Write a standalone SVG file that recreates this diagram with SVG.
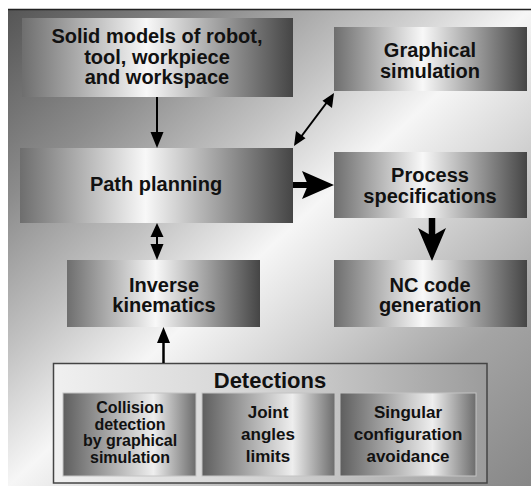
<svg xmlns="http://www.w3.org/2000/svg" width="531" height="486" viewBox="0 0 531 486">
<defs>
<linearGradient id="bg" x1="0" y1="0" x2="1" y2="1">
<stop offset="0" stop-color="#555"/>
<stop offset="0.2" stop-color="#8c8c8c"/>
<stop offset="0.36" stop-color="#c2c2c2"/>
<stop offset="0.5" stop-color="#f6f6f6"/>
<stop offset="0.62" stop-color="#d6d6d6"/>
<stop offset="0.8" stop-color="#a4a4a4"/>
<stop offset="1" stop-color="#878787"/>
</linearGradient>
<linearGradient id="node" x1="0" y1="0" x2="1" y2="0">
<stop offset="0" stop-color="#6e6e6e"/>
<stop offset="0.46" stop-color="#f8f8f8"/>
<stop offset="1" stop-color="#454545"/>
</linearGradient>
<linearGradient id="sub" x1="0" y1="0" x2="1" y2="0">
<stop offset="0" stop-color="#5e5e5e"/>
<stop offset="0.68" stop-color="#eeeeee"/>
<stop offset="1" stop-color="#6c6c6c"/>
</linearGradient>
<linearGradient id="det" x1="0" y1="0" x2="1" y2="0">
<stop offset="0" stop-color="#f0f0f0"/>
<stop offset="0.55" stop-color="#cfcfcf"/>
<stop offset="1" stop-color="#9c9c9c"/>
</linearGradient>
</defs>
<style>
.t{font-family:"Liberation Sans",Arial,sans-serif;font-weight:bold;fill:#111;text-anchor:middle}
.m{font-size:20px}
.s{font-size:17px}
.c{font-size:16px}
.box{fill:url(#node)}
.sb{fill:url(#sub);stroke:#c4c4c4;stroke-width:1}
.ln{stroke:#000;fill:none}
.hd{fill:#000}
</style>
<rect x="0" y="0" width="531" height="486" fill="#fff"/>
<rect x="8" y="9" width="523" height="477" fill="url(#bg)"/>
<line x1="8" y1="9.5" x2="531" y2="9.5" stroke="#222" stroke-width="1.5"/>

<g id="solid-models">
<rect class="box" x="22" y="18" width="271" height="79"/>
<text class="t m" x="157" y="43">Solid models of robot,</text>
<text class="t m" x="157" y="63.5">tool, workpiece</text>
<text class="t m" x="157" y="84">and workspace</text>
</g>
<g id="graphical-simulation">
<rect class="box" x="334" y="27" width="193" height="64"/>
<text class="t m" x="430" y="57">Graphical</text>
<text class="t m" x="430" y="78">simulation</text>
</g>
<g id="path-planning">
<rect class="box" x="20" y="148" width="273" height="75"/>
<text class="t m" x="156" y="191">Path planning</text>
</g>
<g id="process-specifications">
<rect class="box" x="334" y="152" width="193" height="66"/>
<text class="t m" x="430" y="182">Process</text>
<text class="t m" x="430" y="203">specifications</text>
</g>
<g id="inverse-kinematics">
<rect class="box" x="67" y="260" width="193" height="67"/>
<text class="t m" x="164" y="292">Inverse</text>
<text class="t m" x="164" y="312">kinematics</text>
</g>
<g id="nc-code">
<rect class="box" x="334" y="260" width="193" height="67"/>
<text class="t m" x="430" y="292">NC code</text>
<text class="t m" x="430" y="312">generation</text>
</g>
<g id="detections">
<rect x="53.5" y="363.5" width="433.5" height="119.5" fill="url(#det)" stroke="#444" stroke-width="1.5"/>
<text class="t" font-size="22" x="270" y="388">Detections</text>
<g id="collision">
<rect class="sb" x="63" y="393" width="133" height="83"/>
<text class="t c" x="130" y="413">Collision</text>
<text class="t c" x="130" y="429.5">detection</text>
<text class="t c" x="130" y="446">by graphical</text>
<text class="t c" x="130" y="462.5">simulation</text>
</g>
<g id="joint">
<rect class="sb" x="202" y="393" width="133" height="83"/>
<text class="t s" x="268" y="418">Joint</text>
<text class="t s" x="268" y="440">angles</text>
<text class="t s" x="268" y="462">limits</text>
</g>
<g id="singular">
<rect class="sb" x="340" y="393" width="136" height="83"/>
<text class="t s" x="408" y="418">Singular</text>
<text class="t s" x="408" y="440">configuration</text>
<text class="t s" x="408" y="462">avoidance</text>
</g>
</g>

<g id="connectors">
<line class="ln" x1="157" y1="97" x2="157" y2="134" stroke-width="2"/>
<polygon class="hd" points="150.5,132 163.5,132 157,148"/>
<line class="ln" x1="157" y1="235" x2="157" y2="248" stroke-width="2"/>
<polygon class="hd" points="157,223 163.5,237 150.5,237"/>
<polygon class="hd" points="150.5,244 163.5,244 157,260"/>
<line class="ln" x1="299" y1="139.5" x2="329" y2="99.5" stroke-width="2"/>
<polygon class="hd" points="294,146 296,131 305.5,138.2"/>
<polygon class="hd" points="334,93 332,108 322.5,100.8"/>
<line class="ln" x1="293" y1="185" x2="308" y2="185" stroke-width="6"/>
<polygon class="hd" points="302,171 334,185 302,199 308,185"/>
<line class="ln" x1="432" y1="218" x2="432" y2="236" stroke-width="6.5"/>
<polygon class="hd" points="418,228 432,236 446,228 432,261"/>
<line class="ln" x1="163.5" y1="363" x2="163.5" y2="340" stroke-width="2.5"/>
<polygon class="hd" points="163.5,327 170,343 157,343"/>
</g>
</svg>
